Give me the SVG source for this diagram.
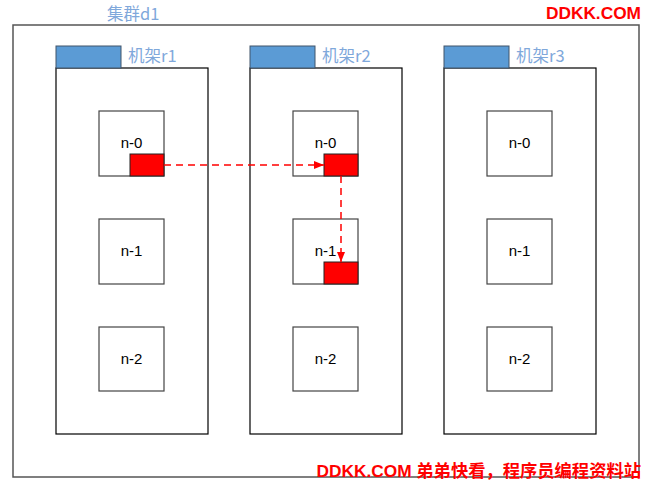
<svg xmlns="http://www.w3.org/2000/svg" width="645" height="482" viewBox="0 0 645 482">
<defs>
<style>
.cluster{fill:#fff;stroke:#555;stroke-width:1.5}
.rack{fill:#fff;stroke:#000;stroke-width:1.2}
.tab{fill:#5b9bd5;stroke:#41556b;stroke-width:1}
.node{fill:#fff;stroke:#444;stroke-width:1.2}
.blk{fill:#ff0000;stroke:#222;stroke-width:1}
.lbl{font-family:"Noto Sans CJK SC","Liberation Sans",sans-serif;font-size:16.5px;fill:#7fa8db}
.nt{font-family:"Liberation Sans","Noto Sans",sans-serif;font-size:15px;fill:#000;text-anchor:middle}
.wm{font-family:"Liberation Sans","Noto Sans CJK SC",sans-serif;font-weight:bold;font-size:17.3px;fill:#ff0000}
.flow{fill:none;stroke:#ff0000;stroke-width:1.5;stroke-dasharray:7,5}
</style>
<marker id="ah" markerWidth="10" markerHeight="8" refX="10" refY="4" orient="auto" markerUnits="userSpaceOnUse">
<path d="M0,0 L10,4 L0,8 Z" fill="#ff0000"/>
</marker>
</defs>
<rect width="645" height="482" fill="#fff"/>
<g id="cluster-d1">
<rect class="cluster" x="13" y="25" width="626" height="452"/>
<text class="lbl" x="107" y="20">集群d1</text>
</g>
<g id="rack-r1">
<rect class="rack" x="56" y="68" width="152" height="366"/>
<rect class="tab" x="56" y="46" width="65" height="22"/>
<text class="lbl" x="128" y="62">机架r1</text>
</g>
<g id="rack-r2">
<rect class="rack" x="250" y="68" width="152" height="366"/>
<rect class="tab" x="250" y="46" width="65" height="22"/>
<text class="lbl" x="322" y="62">机架r2</text>
</g>
<g id="rack-r3">
<rect class="rack" x="444" y="68" width="152" height="366"/>
<rect class="tab" x="444" y="46" width="65" height="22"/>
<text class="lbl" x="516" y="62">机架r3</text>
</g>
<g id="r1-n0"><rect class="node" x="99" y="111" width="65" height="65"/><text class="nt" x="131.5" y="148">n-0</text><rect class="blk" x="130" y="154" width="34" height="22"/></g>
<g id="r1-n1"><rect class="node" x="99" y="219" width="65" height="65"/><text class="nt" x="131.5" y="256">n-1</text></g>
<g id="r1-n2"><rect class="node" x="99" y="327" width="65" height="64"/><text class="nt" x="131.5" y="364">n-2</text></g>
<g id="r2-n0"><rect class="node" x="293" y="111" width="65" height="65"/><text class="nt" x="325.5" y="148">n-0</text><rect class="blk" x="324" y="154" width="34" height="22"/></g>
<g id="r2-n1"><rect class="node" x="293" y="219" width="65" height="65"/><text class="nt" x="325.5" y="256">n-1</text><rect class="blk" x="324" y="262" width="34" height="22"/></g>
<g id="r2-n2"><rect class="node" x="293" y="327" width="65" height="64"/><text class="nt" x="325.5" y="364">n-2</text></g>
<g id="r3-n0"><rect class="node" x="487" y="111" width="65" height="65"/><text class="nt" x="519.5" y="148">n-0</text></g>
<g id="r3-n1"><rect class="node" x="487" y="219" width="65" height="65"/><text class="nt" x="519.5" y="256">n-1</text></g>
<g id="r3-n2"><rect class="node" x="487" y="327" width="65" height="64"/><text class="nt" x="519.5" y="364">n-2</text></g>
<g id="connectors">
<path class="flow" d="M164,165 H324" marker-end="url(#ah)"/>
<path class="flow" d="M341,176 V262" marker-end="url(#ah)"/>
</g>
<text class="wm" x="641" y="19" text-anchor="end">DDKK.COM</text>
<text class="wm" x="641" y="477" text-anchor="end">DDKK.COM 弟弟快看，程序员编程资料站</text>
</svg>
